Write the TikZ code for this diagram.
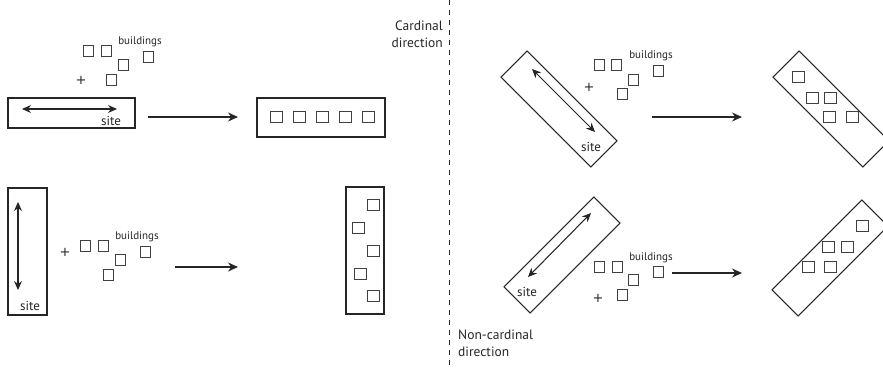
\documentclass[tikz,border=0pt]{standalone}
\usepackage{fontspec}
\setmainfont{PT Sans}
\newfontfamily\plusfont{DejaVu Sans}
\usetikzlibrary{arrows.meta}
\begin{document}
\begin{tikzpicture}[x=1pt,y=-1pt,
  box/.style={draw=black!85, line width=1.05pt, inner sep=0pt},
  bsq/.style={draw=black!75, line width=0.95pt, minimum width=10pt, minimum height=11pt, inner sep=0pt},
  rsq/.style={bsq, minimum width=12pt, minimum height=10.5pt},
  sitelbl/.style={font=\fontsize{13}{14}\selectfont, text=black!85, inner sep=0pt},
  bldlbl/.style={font=\fontsize{11}{12}\selectfont, text=black!85, inner sep=0pt},
  pluslbl/.style={font=\plusfont\fontsize{13}{13}\selectfont, text=black!85, inner sep=0pt},
  dirlbl/.style={font=\fontsize{13.5}{17}\selectfont, text=black!85, inner sep=0pt},
  arr/.style={line width=1.05pt, draw=black!85, -{Stealth[length=10pt,width=9pt]}},
  darr/.style={line width=1.05pt, draw=black!85, {Stealth[length=9pt,width=8pt]}-{Stealth[length=9pt,width=8pt]}},
  divider/.style={line width=0.9pt, draw=black!85, dash pattern=on 5pt off 5pt}
]
\clip (0,0) rectangle (883,367);
\fill[white] (0,0) rectangle (883,367);

% divider
\coordinate (dtop) at (449,0);
\coordinate (dbot) at (449,367);
\draw[divider] (dtop) -- (dbot);
\node[dirlbl, anchor=east, align=right] (card) at (443,34) {Cardinal\\direction};
\node[dirlbl, anchor=west, align=left] (noncard) at (458,343) {Non-cardinal\\direction};

% ---------- top left ----------
\node[box, minimum width=127pt, minimum height=30pt] (s1) at (71.5,113) {};
\coordinate (s1a) at (22,109); \coordinate (s1b) at (117,109);
\draw[darr] (s1a) -- (s1b);
\node[sitelbl] (s1l) at (111,121) {site};
\node[pluslbl] (p1) at (81,80) {+};
\node[bsq] (b11) at (88,51) {};
\node[bsq] (b12) at (106,51) {};
\node[bsq] (b13) at (123,65) {};
\node[bsq] (b14) at (148,57) {};
\node[bsq] (b15) at (111,80) {};
\node[bldlbl] (bl1) at (140,42) {buildings};
\coordinate (a1s) at (148,117); \coordinate (a1e) at (238,117);
\draw[arr] (a1s) -- (a1e);
\node[box, minimum width=128pt, minimum height=39pt] (r1) at (321,117.5) {};
\foreach \i/\x in {1/276,2/299,3/322,4/345,5/368}
  \node[rsq] (r1q\i) at (\x,117) {};

% ---------- bottom left ----------
\node[box, minimum width=39pt, minimum height=127pt] (s2) at (27.5,251.5) {};
\coordinate (s2a) at (18,202); \coordinate (s2b) at (18,290);
\draw[darr] (s2a) -- (s2b);
\node[sitelbl] (s2l) at (30,306) {site};
\node[pluslbl] (p2) at (65,252) {+};
\node[bsq] (b21) at (85,246) {};
\node[bsq] (b22) at (103,246) {};
\node[bsq] (b23) at (120,260) {};
\node[bsq] (b24) at (145,252) {};
\node[bsq] (b25) at (108,275) {};
\node[bldlbl] (bl2) at (137,237) {buildings};
\coordinate (a2s) at (175,267); \coordinate (a2e) at (238,267);
\draw[arr] (a2s) -- (a2e);
\node[box, minimum width=38pt, minimum height=127pt] (r2) at (365,250.5) {};
\node[rsq] (r2q1) at (373,205) {};
\node[rsq] (r2q2) at (358,228) {};
\node[rsq] (r2q3) at (373,251) {};
\node[rsq] (r2q4) at (360,274) {};
\node[rsq] (r2q5) at (373,296) {};

% ---------- top right ----------
\node[box, minimum width=127pt, minimum height=37pt, rotate=-45] (s3) at (559,109) {};
\coordinate (s3a) at (532,69); \coordinate (s3b) at (595,132);
\draw[darr] (s3a) -- (s3b);
\node[sitelbl] (s3l) at (591,147) {site};
\node[pluslbl] (p3) at (589,87) {+};
\node[bsq] (b31) at (599,65) {};
\node[bsq] (b32) at (616,65) {};
\node[bsq] (b33) at (633,80) {};
\node[bsq] (b34) at (658,71) {};
\node[bsq] (b35) at (622,94) {};
\node[bldlbl] (bl3) at (651,56) {buildings};
\coordinate (a3s) at (652,117); \coordinate (a3e) at (742,117);
\draw[arr] (a3s) -- (a3e);
\node[box, minimum width=127pt, minimum height=37pt, rotate=-45] (r3) at (831,109) {};
\node[rsq] (r3q1) at (798,77) {};
\node[rsq] (r3q2) at (812,98) {};
\node[rsq] (r3q3) at (830,98) {};
\node[rsq] (r3q4) at (829,117) {};
\node[rsq] (r3q5) at (852,117) {};

% ---------- bottom right ----------
\node[box, minimum width=127pt, minimum height=37pt, rotate=45] (s4) at (562,255) {};
\coordinate (s4a) at (591,213); \coordinate (s4b) at (528,277);
\draw[darr] (s4a) -- (s4b);
\node[sitelbl] (s4l) at (527,292) {site};
\node[pluslbl] (p4) at (598,298) {+};
\node[bsq] (b41) at (599,267) {};
\node[bsq] (b42) at (617,267) {};
\node[bsq] (b43) at (633,280) {};
\node[bsq] (b44) at (658,272) {};
\node[bsq] (b45) at (622,295) {};
\node[bldlbl] (bl4) at (651,258) {buildings};
\coordinate (a4s) at (672,273); \coordinate (a4e) at (742,273);
\draw[arr] (a4s) -- (a4e);
\node[box, minimum width=127pt, minimum height=37pt, rotate=45] (r4) at (830,258) {};
\node[rsq] (r4q1) at (862,226) {};
\node[rsq] (r4q2) at (828,247) {};
\node[rsq] (r4q3) at (847,247) {};
\node[rsq] (r4q4) at (808,267) {};
\node[rsq] (r4q5) at (830,267) {};
\end{tikzpicture}
\end{document}
